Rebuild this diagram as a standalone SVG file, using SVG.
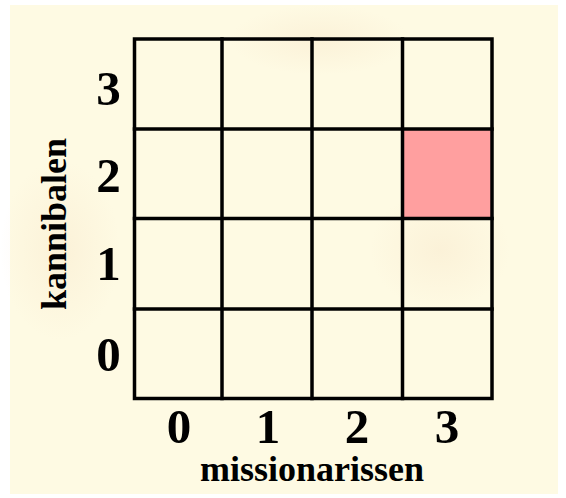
<svg xmlns="http://www.w3.org/2000/svg" width="566" height="498" viewBox="0 0 566 498">
  <defs>
    <style>
      .grid { fill: none; stroke: #000; stroke-width: 3.5; stroke-linecap: square; }
      .num { font-family: "Liberation Serif", "Times New Roman", serif; font-weight: bold; font-size: 49px; fill: #000; text-anchor: middle; }
      .lbl { font-family: "Liberation Serif", "Times New Roman", serif; font-weight: bold; font-size: 36px; fill: #000; text-anchor: middle; }
    </style>
    <radialGradient id="blot" cx="50%" cy="50%" r="50%">
      <stop offset="0" stop-color="#f6e2c4" stop-opacity="0.35"/>
      <stop offset="1" stop-color="#f6e2c4" stop-opacity="0"/>
    </radialGradient>
  </defs>
  <rect x="0" y="0" width="566" height="498" fill="#ffffff"/>
  <g id="background">
    <rect x="10" y="5" width="548" height="489" fill="#fefae3"/>
    <ellipse cx="60" cy="250" rx="60" ry="90" fill="url(#blot)"/>
    <ellipse cx="440" cy="250" rx="70" ry="60" fill="url(#blot)"/>
    <ellipse cx="320" cy="40" rx="90" ry="35" fill="url(#blot)"/>
  </g>
  <g id="cell-3-2">
    <rect x="402.5" y="129" width="89.5" height="89.5" fill="#ff9f9f"/>
  </g>
  <g id="grid">
    <rect class="grid" x="134.5" y="39" width="357.5" height="359.5"/>
    <line class="grid" x1="222" y1="39" x2="222" y2="398.5"/>
    <line class="grid" x1="312" y1="39" x2="312" y2="398.5"/>
    <line class="grid" x1="402.5" y1="39" x2="402.5" y2="398.5"/>
    <line class="grid" x1="134.5" y1="129" x2="492" y2="129"/>
    <line class="grid" x1="134.5" y1="218.5" x2="492" y2="218.5"/>
    <line class="grid" x1="134.5" y1="309" x2="492" y2="309"/>
  </g>
  <g id="y-axis">
    <text class="num" x="108.5" y="105">3</text>
    <text class="num" x="108.5" y="192">2</text>
    <text class="num" x="108.5" y="280">1</text>
    <text class="num" x="108.5" y="371">0</text>
    <text class="lbl" transform="translate(66,224) rotate(-90)" x="0" y="0">kannibalen</text>
  </g>
  <g id="x-axis">
    <text class="num" x="179" y="443">0</text>
    <text class="num" x="268" y="443">1</text>
    <text class="num" x="357" y="443">2</text>
    <text class="num" x="447" y="443">3</text>
    <text class="lbl" x="312" y="481">missionarissen</text>
  </g>
</svg>
